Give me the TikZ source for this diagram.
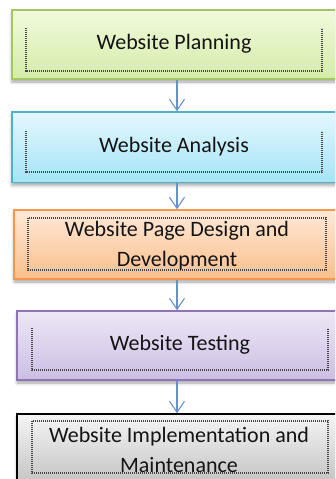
\documentclass[tikz,border=0pt]{standalone}
\usepackage{fontspec}
\setmainfont{Carlito}
\usetikzlibrary{arrows.meta,shadows.blur}

\definecolor{grnTop}{RGB}{241,250,221}
\definecolor{grnBot}{RGB}{212,236,168}
\definecolor{grnLine}{RGB}{163,199,98}
\definecolor{cyaTop}{RGB}{228,247,253}
\definecolor{cyaBot}{RGB}{165,228,247}
\definecolor{cyaLine}{RGB}{80,176,206}
\definecolor{orgTop}{RGB}{254,233,216}
\definecolor{orgBot}{RGB}{251,191,140}
\definecolor{orgLine}{RGB}{246,152,76}
\definecolor{vioTop}{RGB}{237,231,246}
\definecolor{vioBot}{RGB}{204,190,228}
\definecolor{vioLine}{RGB}{143,117,180}
\definecolor{gryTop}{RGB}{245,245,245}
\definecolor{gryBot}{RGB}{196,196,196}
\definecolor{arrowBlue}{RGB}{104,144,204}
\definecolor{frameGray}{RGB}{70,70,70}
\definecolor{txt}{RGB}{20,20,20}

\tikzset{
  stage/.style={rectangle, line width=1.5pt, inner sep=0pt,
    minimum width=330pt, minimum height=69pt,
    blur shadow={shadow xshift=0pt, shadow yshift=-3pt,
      shadow blur radius=3pt, shadow opacity=35}},
  plan/.style={stage, draw=grnLine, top color=grnTop, bottom color=grnBot},
  analysis/.style={stage, draw=cyaLine, top color=cyaTop, bottom color=cyaBot, minimum height=70.5pt},
  design/.style={stage, draw=orgLine, top color=orgTop, bottom color=orgBot, minimum width=326pt},
  testing/.style={stage, draw=vioLine, top color=vioTop, bottom color=vioBot, minimum width=320pt},
  upkeep/.style={stage, draw=black, top color=gryTop, bottom color=gryBot, minimum width=320pt},
  lbl/.style={text=txt, font=\fontsize{22}{29.5}\selectfont, align=center, inner sep=0pt},
  frame/.style={draw=frameGray, line width=1.2pt, dash pattern=on 1.1pt off 0.9pt},
  flow/.style={draw=arrowBlue, line width=1.1pt,
    -{Straight Barb[length=11pt, width=15pt, line width=1.1pt]}}
}

\begin{document}
\begin{tikzpicture}[x=1pt, y=-1pt]
  \useasboundingbox (0,0) rectangle (335,479);
  \begin{scope}
    \clip (0,0) rectangle (335,479);

    % stage boxes
    \node[plan]     (b1) at (177,44.5)  {};
    \node[analysis] (b2) at (177,147.25) {};
    \node[design]   (b3) at (177,244.5) {};
    \node[testing]  (b4) at (177,345.5) {};
    \node[upkeep]   (b5) at (177,448.5) {};

    % dotted inner frames
    \coordinate (f1a) at (26,28);  \coordinate (f1b) at (322,71);
    \coordinate (f2a) at (26,131); \coordinate (f2b) at (322,172);
    \coordinate (f3a) at (28,218); \coordinate (f3b) at (326,270);
    \coordinate (f4a) at (32,328); \coordinate (f4b) at (328,370);
    \coordinate (f5a) at (32,421); \coordinate (f5b) at (328,473);
    \draw[frame] (f1a) -- (f1a |- f1b) -- (f1b) -- (f1b |- f1a);
    \draw[frame] (f2a) -- (f2a |- f2b) -- (f2b) -- (f2b |- f2a);
    \draw[frame] (f3a) rectangle (f3b);
    \draw[frame] (f4a) -- (f4a |- f4b) -- (f4b) -- (f4b |- f4a);
    \draw[frame] (f5a) rectangle (f5b);

    % labels
    \node[lbl] (t1) at (174,44)     {Website Planning};
    \node[lbl] (t2) at (174,146.5)  {Website Analysis};
    \node[lbl] (t3) at (177,245.5)  {Website Page Design and\\Development};
    \node[lbl] (t4) at (180,344.5)  {Website Testing};
    \node[lbl] (t5) at (179,450)    {Website Implementation and\\Maintenance};

    % connectors
    \draw[flow] (b1.south) -- (b2.north);
    \draw[flow] (b2.south) -- (b3.north);
    \draw[flow] (b3.south) -- (b4.north);
    \draw[flow] (b4.south) -- (b5.north);
  \end{scope}
\end{tikzpicture}
\end{document}
